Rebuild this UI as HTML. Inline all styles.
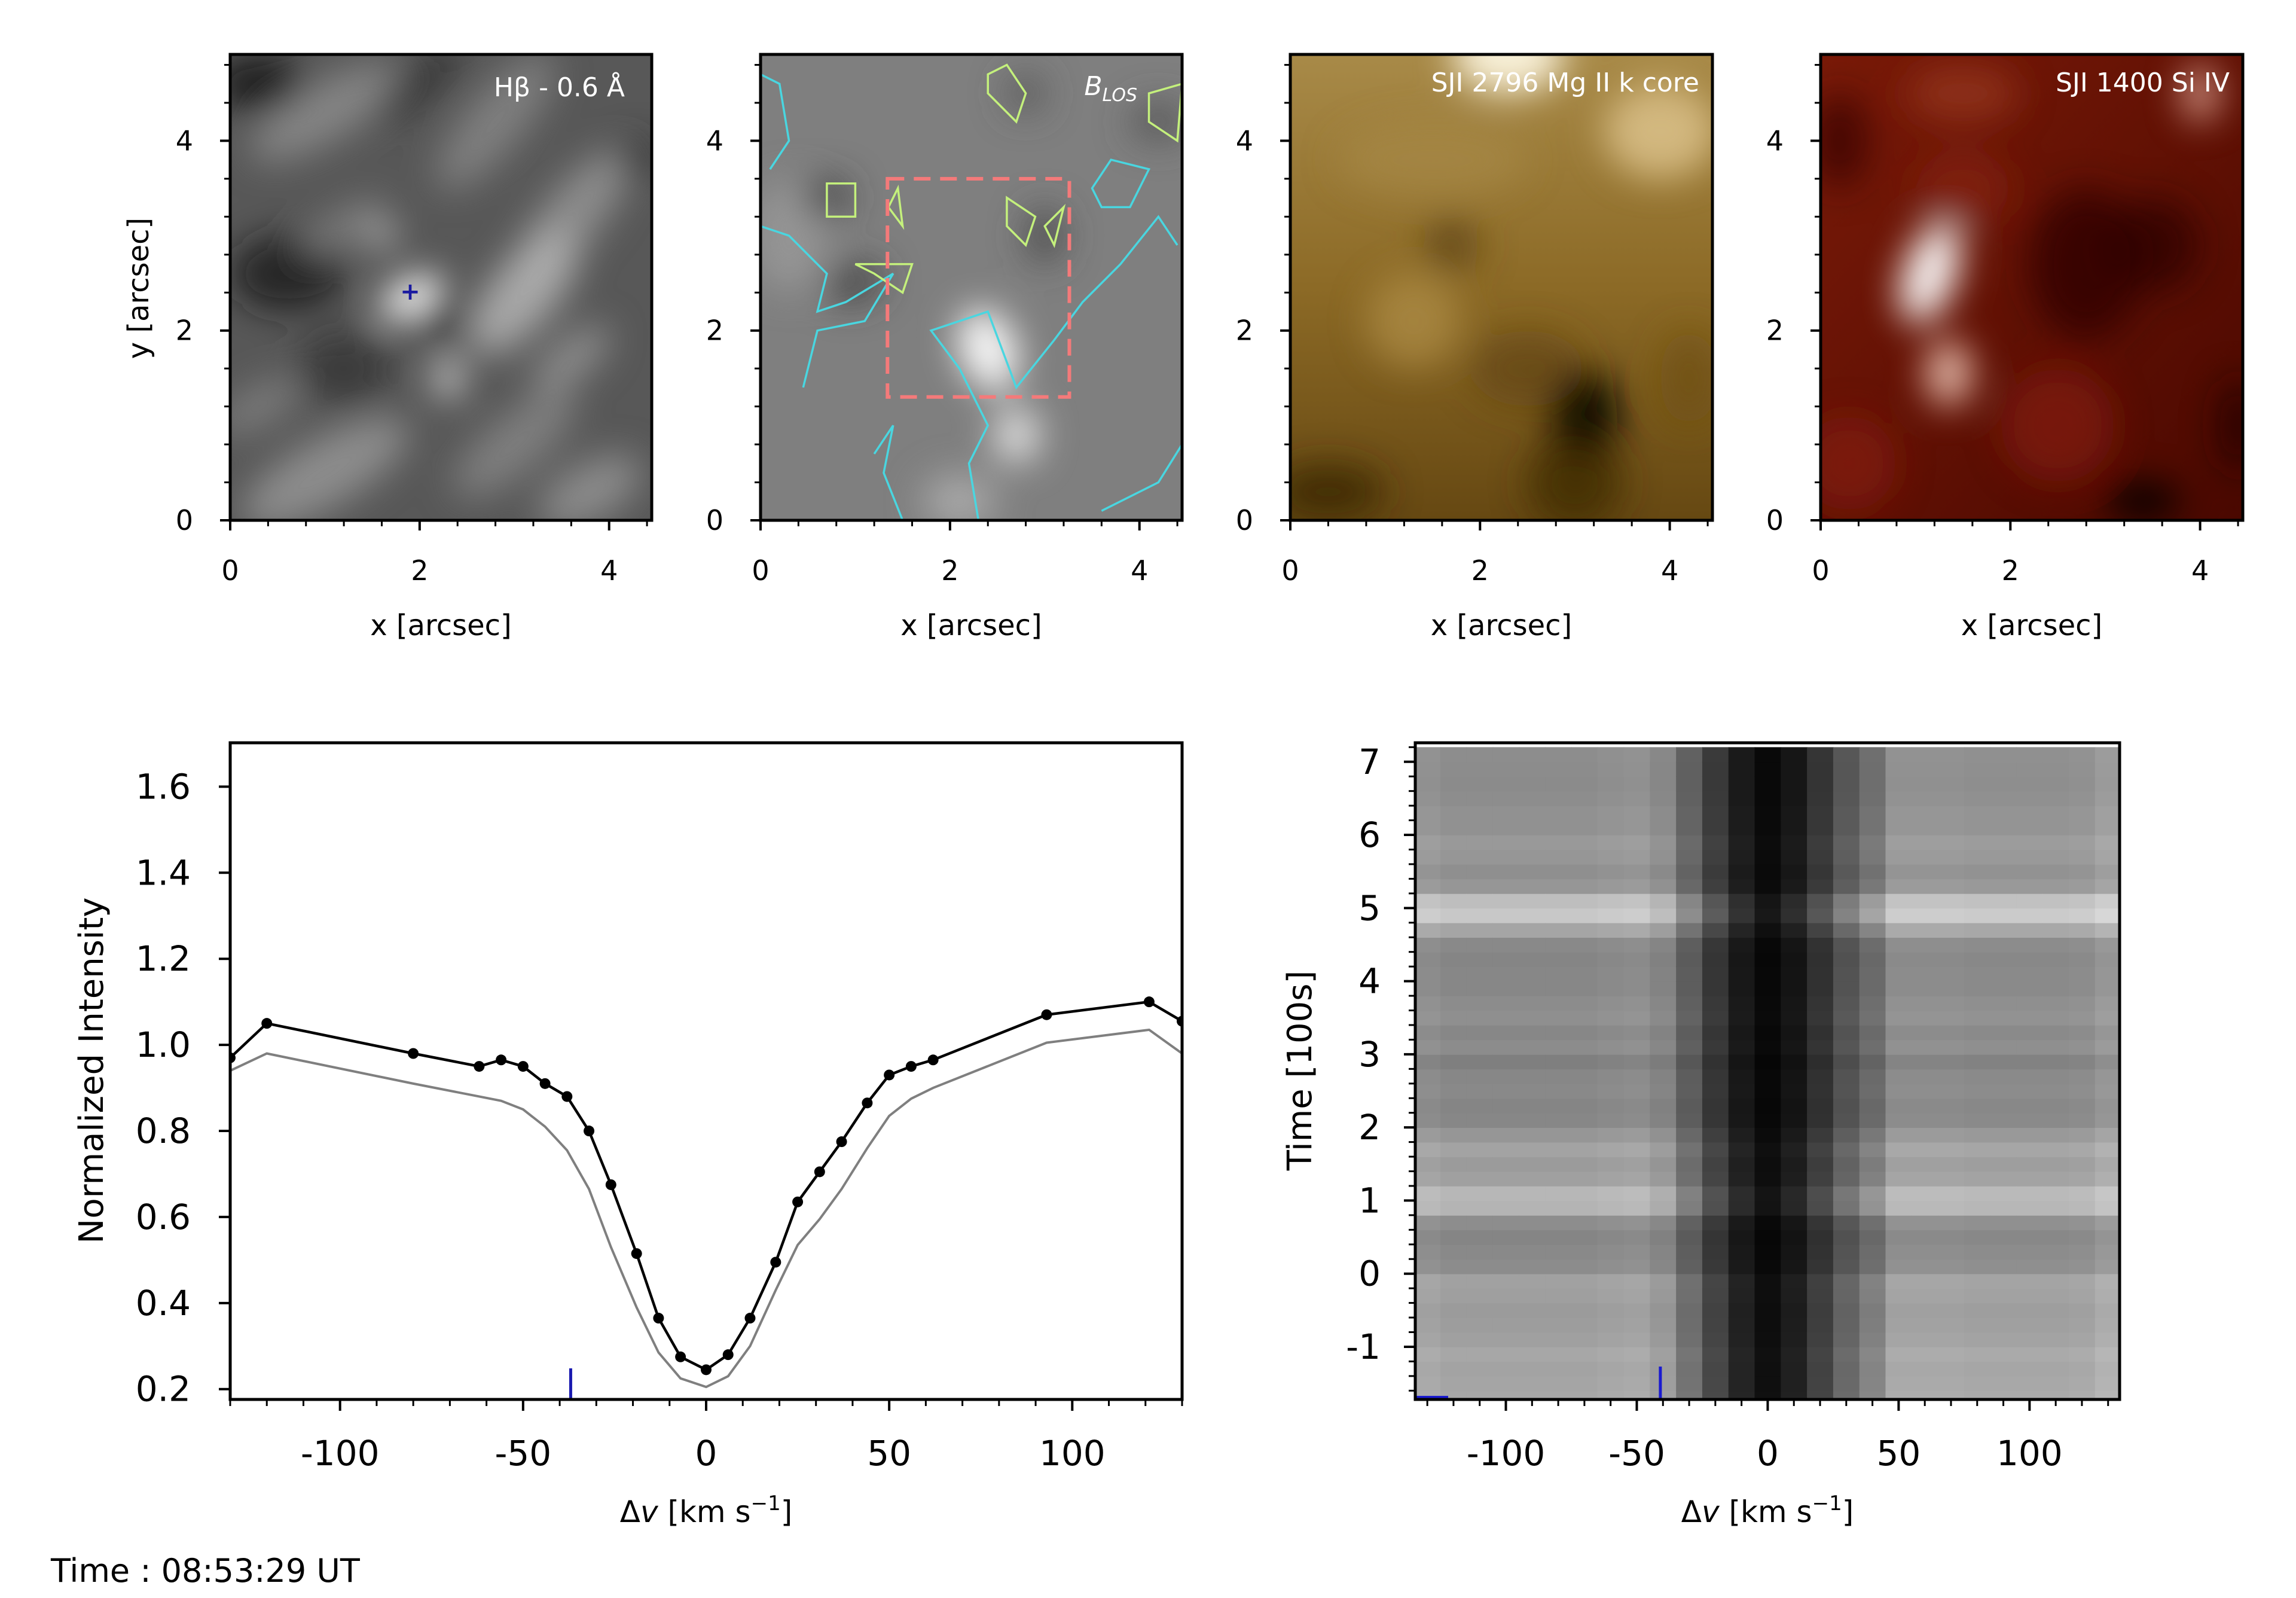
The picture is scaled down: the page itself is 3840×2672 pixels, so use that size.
<!DOCTYPE html>
<html><head><meta charset="utf-8">
<style>
html,body{margin:0;padding:0;background:#fff;}
svg{display:block;font-family:"DejaVu Sans","Liberation Sans",sans-serif;}
</style></head>
<body>
<svg id="fig" width="3840" height="2672" viewBox="0 0 3840 2672" xmlns="http://www.w3.org/2000/svg">
<defs>
<filter id="b30" x="-50%" y="-50%" width="200%" height="200%"><feGaussianBlur stdDeviation="30"/></filter>
<linearGradient id="gMg" x1="0" y1="0" x2="0" y2="1"><stop offset="0" stop-color="#a88a48"/><stop offset="0.5" stop-color="#8c6a26"/><stop offset="1" stop-color="#664812"/></linearGradient>
<linearGradient id="gSi" x1="0" y1="0" x2="1" y2="1"><stop offset="0" stop-color="#7a1a08"/><stop offset="1" stop-color="#4a0800"/></linearGradient>
</defs>
<g id="root"></g>
</svg>
<script>
const NS='http://www.w3.org/2000/svg';
const root=document.getElementById('root');
function el(tag,attrs,parent){const e=document.createElementNS(NS,tag);for(const k in attrs)e.setAttribute(k,attrs[k]);(parent||root).appendChild(e);return e;}

// ---------------- Data ----------------
const profVel=[-130,-120,-80,-62,-56,-50,-44,-38,-32,-26,-19,-13,-7,0,6,12,19,25,31,37,44,50,56,62,93,121,130];
const profObs=[0.97,1.05,0.98,0.95,0.965,0.95,0.91,0.88,0.80,0.675,0.515,0.365,0.275,0.245,0.28,0.365,0.495,0.635,0.705,0.775,0.865,0.93,0.95,0.965,1.07,1.10,1.055];
const profRef=[0.94,0.98,0.91,0.88,0.87,0.85,0.81,0.755,0.665,0.53,0.39,0.285,0.225,0.205,0.23,0.30,0.43,0.535,0.595,0.665,0.76,0.835,0.875,0.90,1.005,1.035,0.98];
const profYTicks=[0.2,0.4,0.6,0.8,1.0,1.2,1.4,1.6];
const profYLabels=['0.2','0.4','0.6','0.8','1.0','1.2','1.4','1.6'];
const velTicks=[-100,-50,0,50,100];
const velLabels=['-100','-50','0','50','100'];
const markVel=-37;

const hmVel=[-130,-120,-110,-100,-90,-80,-70,-60,-50,-40,-30,-20,-10,0,10,20,30,40,50,60,70,80,90,100,110,120,130];
const hmColBase=[150,145,145,145,145,145,145,148,150,140,100,60,28,10,24,55,90,115,150,150,150,148,148,148,148,150,160];
const hmTimes=[-1.7,-1.5,-1.3,-1.1,-0.9,-0.7,-0.5,-0.3,-0.1,0.1,0.3,0.5,0.7,0.9,1.1,1.3,1.5,1.7,1.9,2.1,2.3,2.5,2.7,2.9,3.1,3.3,3.5,3.7,3.9,4.1,4.3,4.5,4.7,4.9,5.1,5.3,5.5,5.7,5.9,6.1,6.3,6.5,6.7,6.9,7.1];
const hmRowMod=[22,20,18,22,15,12,10,14,16,-5,-8,-12,-4,35,38,15,10,18,5,-10,-12,-8,-10,-18,-5,-10,-2,-5,-10,-10,-12,-8,20,55,45,5,-2,5,8,0,0,-4,-6,-5,-4];
const hmYTicks=[-1,0,1,2,3,4,5,6,7];
const hmYLabels=['-1','0','1','2','3','4','5','6','7'];
const hmMarkVel=-41;

const mapTicks=[0,2,4];
const mapLabels=['0','2','4'];

// ---------------- Helpers ----------------
function linScale(d0,d1,r0,r1){return v=>r0+(v-d0)/(d1-d0)*(r1-r0);}
function txt(x,y,s,size,opts){const t=el('text',Object.assign({x:x,y:y,'font-size':size,fill:'#000'},opts||{}));t.textContent=s;return t;}
function frame(x0,y0,x1,y1,name){const r=el('rect',{x:x0,y:y0,width:x1-x0,height:y1-y0,fill:'none',stroke:'#000','stroke-width':5});}

// ---------------- Top maps ----------------
const panels=[
 {x0:385,x1:1090,name:'hbeta-map',bg:'#585858',label:'Hβ - 0.6 Å',ylab:true},
 {x0:1272,x1:1977,name:'blos-map',bg:'#7f7f7f',label:'B',ylab:false},
 {x0:2158,x1:2864,name:'mg-k-map',bg:'url(#gMg)',label:'SJI 2796 Mg II k core',ylab:false},
 {x0:3045,x1:3751,name:'si-iv-map',bg:'url(#gSi)',label:'SJI 1400 Si IV',ylab:false}
];
const MT=91,MB=870;
const blobs=[
 [[0.3,4.6,0.5,0.3,0,'#151515',0.9],[1.0,4.3,0.9,0.3,-30,'#909090',0.8],[2.8,4.2,0.9,0.3,-50,'#8a8a8a',0.8],[3.6,3.2,0.9,0.3,-50,'#9a9a9a',0.8],[3.1,2.4,0.8,0.35,-50,'#b0b0b0',0.9],[0.6,2.6,0.6,0.4,0,'#1a1a1a',0.8],[1.2,3.1,0.5,0.15,-30,'#8a8a8a',0.8],[1.6,3.0,0.15,0.15,0,'#c0c0c0',0.9],[2.2,2.2,0.2,0.35,0,'#101010',0.9],[1.9,2.35,0.35,0.18,-30,'#ffffff',1],[2.3,1.5,0.12,0.2,0,'#ffffff',1],[1.0,0.5,1.0,0.35,-30,'#9a9a9a',0.8],[3.0,0.8,0.8,0.3,-40,'#8f8f8f',0.7],[3.8,0.3,0.6,0.3,-30,'#a0a0a0',0.7],[3.6,1.7,0.5,0.2,-40,'#a5a5a5',0.7],[1.2,1.6,0.5,0.4,0,'#2e2e2e',0.7],[4.3,3.8,0.2,0.2,0,'#202020',0.8],[0.3,1.2,0.5,0.2,-30,'#8a8a8a',0.7],[2.0,4.6,0.6,0.2,-40,'#2a2a2a',0.7]],
 [[2.4,1.8,0.3,0.45,-20,'#ffffff',0.95],[2.7,0.9,0.25,0.3,0,'#e8e8e8',0.9],[0.3,3.0,0.4,0.6,0,'#9a9a9a',0.8],[2.1,0.2,0.4,0.3,0,'#b0b0b0',0.8],[0.7,3.4,0.25,0.2,0,'#3e3e3e',0.9],[1.0,2.5,0.3,0.2,-20,'#404040',0.9],[3.0,3.0,0.2,0.3,0,'#4a4a4a',0.9],[2.8,4.5,0.2,0.2,0,'#555',0.9],[4.2,4.2,0.3,0.2,0,'#555',0.9]],
 [[2.3,4.9,0.6,0.4,0,'#f8f0d8',1],[3.9,4.1,0.6,0.5,0,'#d8be86',0.9],[3.1,1.1,0.35,0.5,0,'#100800',1],[3.0,0.4,0.5,0.5,0,'#3e2a08',0.8],[1.7,2.9,0.3,0.3,0,'#5a3e0c',0.7],[1.5,3.8,1.0,0.4,0,'#a88a48',0.6],[1.3,2.1,0.5,0.5,0,'#b8964e',0.6],[0.4,0.3,0.6,0.3,0,'#3a2806',0.8],[4.2,1.5,0.3,0.5,0,'#6e4e14',0.7],[2.5,1.6,0.6,0.4,0,'#5e4010',0.6]],
 [[1.15,2.6,0.28,0.55,20,'#ffffff',0.95],[1.35,1.55,0.25,0.35,0,'#f0c8b8',0.9],[4.0,4.5,0.2,0.3,0,'#e8b0a0',0.8],[1.5,4.5,0.6,0.3,0,'#a04028',0.6],[2.8,2.7,0.6,0.8,0,'#300000',0.8],[3.5,2.9,0.5,0.5,0,'#2a0000',0.7],[3.4,0.2,0.4,0.2,0,'#000',0.9],[4.4,1.0,0.2,0.5,0,'#200000',0.8],[2.5,1.0,0.6,0.6,0,'#8a2210',0.6],[0.2,4.0,0.3,0.5,0,'#350000',0.7],[0.3,0.6,0.5,0.5,0,'#8a2210',0.6],[1.5,3.5,0.5,0.4,0,'#8a2414',0.6]]
];
const blobNames=['granule','field-patch','mg-feature','si-feature'];
panels.forEach((p,pi)=>{
  const sx=linScale(0,4.45,p.x0,p.x1), sy=linScale(0,4.91,MB,MT);
  const g=el('g',{});
  
  
  const cid='clip'+pi;
  const cp=el('clipPath',{id:cid},g);el('rect',{x:p.x0,y:MT,width:p.x1-p.x0,height:MB-MT},cp);
  const ig=el('g',{'clip-path':'url(#'+cid+')'},g);
  const bgr=el('rect',{x:p.x0,y:MT,width:p.x1-p.x0,height:MB-MT,fill:p.bg},ig);
  
  
  const bg2=el('g',{filter:'url(#b30)'},ig);
  blobs[pi].forEach(b=>{
    const e=el('ellipse',{cx:sx(b[0]),cy:sy(b[1]),rx:b[2]*158,ry:b[3]*158,fill:b[5],opacity:b[6],transform:'rotate('+b[4]+' '+sx(b[0])+' '+sy(b[1])+')'},bg2);
    
    
  });
  if(pi===0){
    const m=el('text',{x:sx(1.9),y:sy(2.4)+12,'font-size':40,'font-weight':'bold',fill:'#1a1aa0','text-anchor':'middle'},g);m.textContent='+';
    
  }
  if(pi===1){
    const cg=el('g',{fill:'none','stroke-width':3.5},ig);
    
    const cy=[
     'M0,3.1 L0.3,3.0 L0.7,2.6 L0.6,2.2 L0.9,2.3 L1.4,2.6 L1.1,2.1 L0.6,2.0 L0.45,1.4',
     'M0,4.7 L0.2,4.6 L0.3,4.0 L0.1,3.7',
     'M2.3,0.0 L2.2,0.6 L2.4,1.0 L2.1,1.6 L1.8,2.0 L2.4,2.2 L2.7,1.4 L3.1,1.9 L3.4,2.3 L3.8,2.7 L4.2,3.2 L4.4,2.9',
     'M1.5,0.0 L1.3,0.5 L1.4,1.0 L1.2,0.7',
     'M3.6,0.1 L4.2,0.4 L4.45,0.8',
     'M3.5,3.5 L3.7,3.8 L4.1,3.7 L3.9,3.3 L3.6,3.3 Z'
    ];
    cy.forEach(d=>{el('path',{d:d.replace(/([\d.]+),([\d.]+)/g,(m,a,b)=>sx(+a)+','+sy(+b)),stroke:'#49d6e0'},cg);});
    const gr=[
     'M2.4,4.7 L2.6,4.8 L2.8,4.5 L2.7,4.2 L2.4,4.5 Z',
     'M0.7,3.2 L1.0,3.2 L1.0,3.55 L0.7,3.55 Z',
     'M1.0,2.7 L1.6,2.7 L1.5,2.4 L1.2,2.6 Z',
     'M2.6,3.4 L2.9,3.2 L2.8,2.9 L2.6,3.1 Z',
     'M3.0,3.1 L3.2,3.3 L3.1,2.9 Z',
     'M4.1,4.5 L4.45,4.6 L4.4,4.0 L4.1,4.2 Z',
     'M1.35,3.3 L1.45,3.5 L1.5,3.1 Z'
    ];
    gr.forEach(d=>{el('path',{d:d.replace(/([\d.]+),([\d.]+)/g,(m,a,b)=>sx(+a)+','+sy(+b)),stroke:'#c4f07c'},cg);});
    const box=el('rect',{x:sx(1.34),y:sy(3.6),width:sx(3.26)-sx(1.34),height:sy(1.3)-sy(3.6),fill:'none',stroke:'#f47a7a','stroke-width':6,'stroke-dasharray':'28,16'},g);
    
  }
  if(pi===1){
    const t=el('text',{x:p.x1-75,y:MT+68,'font-size':44,fill:'#fff','text-anchor':'end','font-style':'italic'},g);
    t.innerHTML='B<tspan font-size="30" dy="10">LOS</tspan>';
    
  } else {
    const t=el('text',{x:p.x1-(pi===0?45:22),y:MT+(pi===0?70:62),'font-size':44,fill:'#fff','text-anchor':'end'},g);t.textContent=p.label;
    
  }
  frame(p.x0,MT,p.x1,MB,'map-frame');
  for(let v=0;v<=4.45;v+=0.4){const X=sx(v);el('line',{x1:X,y1:MB,x2:X,y2:MB+10,stroke:'#000','stroke-width':3});}
  for(let v=0;v<=4.91;v+=0.4){const Y=sy(v);el('line',{x1:p.x0,y1:Y,x2:p.x0-10,y2:Y,stroke:'#000','stroke-width':3});}
  mapTicks.forEach((v,i)=>{
    el('line',{x1:sx(v),y1:MB,x2:sx(v),y2:MB+17,stroke:'#000','stroke-width':4});
    el('line',{x1:p.x0,y1:sy(v),x2:p.x0-17,y2:sy(v),stroke:'#000','stroke-width':4});
    const tx=txt(sx(v),MB+100,mapLabels[i],46,{'text-anchor':'middle'});
    
    const ty=txt(p.x0-62,sy(v)+16,mapLabels[i],46,{'text-anchor':'end'});
    
  });
  const xl=txt((p.x0+p.x1)/2,1062,'x [arcsec]',48,{'text-anchor':'middle'});
  
  if(p.ylab){const yl=txt(0,0,'y [arcsec]',48,{'text-anchor':'middle',transform:'translate(248,482) rotate(-90)'});
    }
});

// ---------------- Profile plot ----------------
(function(){
  const X0=385,X1=1977,Y0=1242,Y1=2340;
  const sx=linScale(-130,130,X0,X1), sy=linScale(0.176,1.702,Y1,Y0);
  const g=el('g',{});
  const cp=el('clipPath',{id:'cpp'},g);el('rect',{x:X0,y:Y0,width:X1-X0,height:Y1-Y0},cp);
  const pg=el('g',{'clip-path':'url(#cpp)'},g);
  const ref=el('polyline',{points:profVel.map((v,i)=>sx(v)+','+sy(profRef[i])).join(' '),fill:'none',stroke:'#7f7f7f','stroke-width':4},pg);
  
  const obs=el('polyline',{points:profVel.map((v,i)=>sx(v)+','+sy(profObs[i])).join(' '),fill:'none',stroke:'#000','stroke-width':4.5},pg);
  
  profVel.forEach((v,i)=>{const c=el('circle',{cx:sx(v),cy:sy(profObs[i]),r:9,fill:'#000'},pg);
    });
  const mk=el('line',{x1:sx(markVel),y1:Y1,x2:sx(markVel),y2:Y1-52,stroke:'#1a1ab0','stroke-width':5},g);
  
  frame(X0,Y0,X1,Y1,'profile-frame');
  for(let v=-130;v<=130;v+=10){el('line',{x1:sx(v),y1:Y1,x2:sx(v),y2:Y1+11,stroke:'#000','stroke-width':3});}
  velTicks.forEach((v,i)=>{el('line',{x1:sx(v),y1:Y1,x2:sx(v),y2:Y1+19,stroke:'#000','stroke-width':4});
    const t=txt(sx(v),Y1+110,velLabels[i],58,{'text-anchor':'middle'});});
  profYTicks.forEach((v,i)=>{el('line',{x1:X0,y1:sy(v),x2:X0-19,y2:sy(v),stroke:'#000','stroke-width':4});
    const t=txt(X0-66,sy(v)+20,profYLabels[i],58,{'text-anchor':'end'});});
  const xl=txt((X0+X1)/2,2545,'',50,{'text-anchor':'middle'});
  xl.innerHTML='Δ<tspan font-style="italic">v</tspan> [km s<tspan font-size="34" dy="-20">−1</tspan><tspan dy="20">]</tspan>';
  
  const yl=txt(0,0,'Normalized Intensity',56,{'text-anchor':'middle',transform:'translate(172,1790) rotate(-90)'});
  
})();

// ---------------- Heatmap ----------------
(function(){
  const X0=2367,X1=3545,Y0=1242,Y1=2340;
  const sx=linScale(-134.6,134.4,X0,X1), sy=linScale(-1.72,7.26,Y1,Y0);
  const g=el('g',{});
  const cp=el('clipPath',{id:'cph'},g);el('rect',{x:X0,y:Y0,width:X1-X0,height:Y1-Y0},cp);
  const hg=el('g',{'clip-path':'url(#cph)'},g);
  hmVel.forEach((v,ci)=>{
    const wing=Math.min(1,Math.abs(v)/45);
    hmTimes.forEach((t,ri)=>{
      let val=hmColBase[ci]+hmRowMod[ri]*(0.25+0.75*wing);
      val=Math.max(0,Math.min(255,Math.round(val)));
      const xa=sx(v-5),xb=sx(v+5),ya=sy(t+0.1),yb=sy(t-0.1);
      const r=el('rect',{x:xa,y:ya,width:xb-xa+0.8,height:yb-ya+0.8,fill:'rgb('+val+','+val+','+val+')'},hg);
      
    });
  });
  const mk=el('line',{x1:sx(hmMarkVel),y1:Y1,x2:sx(hmMarkVel),y2:Y1-55,stroke:'#1a1ad0','stroke-width':5},g);
  
  const tm=el('line',{x1:X0,y1:Y1-3,x2:X0+55,y2:Y1-3,stroke:'#1a1ad0','stroke-width':6},g);
  
  frame(X0,Y0,X1,Y1,'heatmap-frame');
  for(let v=-130;v<=134;v+=10){el('line',{x1:sx(v),y1:Y1,x2:sx(v),y2:Y1+11,stroke:'#000','stroke-width':3});}
  for(let t=-1.6;t<=7.26;t+=0.2){el('line',{x1:X0,y1:sy(t),x2:X0-11,y2:sy(t),stroke:'#000','stroke-width':3});}
  velTicks.forEach((v,i)=>{el('line',{x1:sx(v),y1:Y1,x2:sx(v),y2:Y1+19,stroke:'#000','stroke-width':4});
    const t=txt(sx(v),Y1+110,velLabels[i],58,{'text-anchor':'middle'});});
  hmYTicks.forEach((v,i)=>{el('line',{x1:X0,y1:sy(v),x2:X0-19,y2:sy(v),stroke:'#000','stroke-width':4});
    const t=txt(X0-58,sy(v)+20,hmYLabels[i],58,{'text-anchor':'end'});});
  const xl=txt((X0+X1)/2,2545,'',50,{'text-anchor':'middle'});
  xl.innerHTML='Δ<tspan font-style="italic">v</tspan> [km s<tspan font-size="34" dy="-20">−1</tspan><tspan dy="20">]</tspan>';
  
  const yl=txt(0,0,'Time [100s]',56,{'text-anchor':'middle',transform:'translate(2193,1790) rotate(-90)'});
  
})();

const tl=txt(85,2645,'Time : 08:53:29 UT',54,{});


</script>
</body></html>
